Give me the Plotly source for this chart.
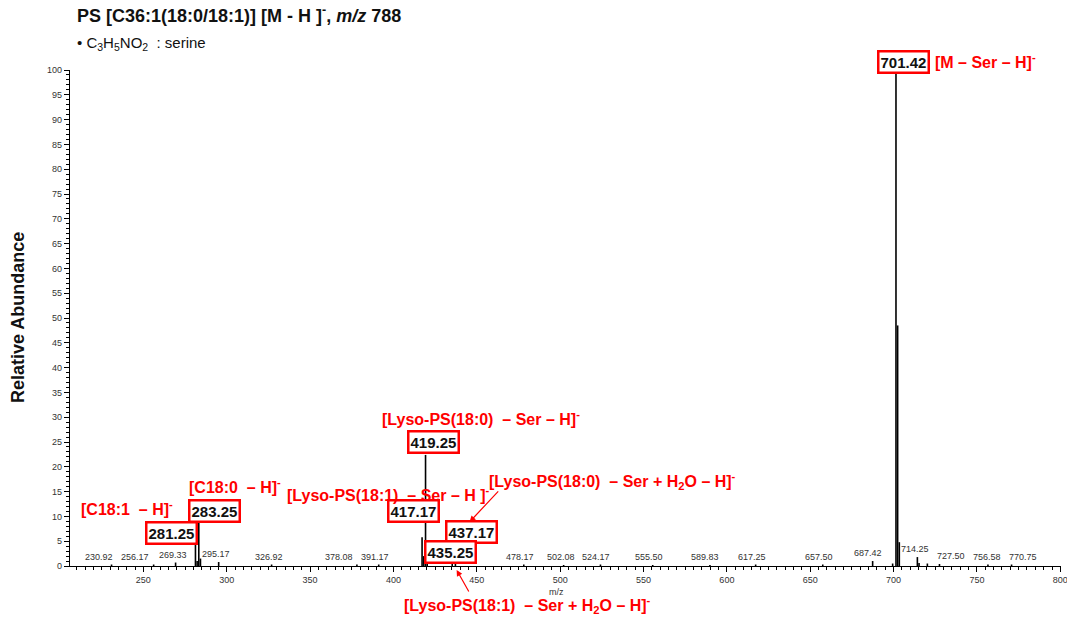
import plotly.graph_objects as go

# ---- data ----
peak_mz = [230.92, 256.17, 269.33, 281.25, 282.25, 283.25, 284.25, 295.17, 326.92, 378.08,
           391.17, 417.17, 418.17, 419.25, 420.25, 435.25, 437.17, 478.17, 502.08, 524.17,
           555.50, 589.83, 617.25, 657.50, 687.42, 699.42, 701.42, 702.42, 703.42, 714.25,
           715.25, 720.25, 727.50, 756.58, 770.75]
peak_int = [0.3, 0.3, 0.7, 6.2, 1.0, 8.7, 1.5, 0.8, 0.3, 0.3,
            0.3, 5.8, 2.0, 22.4, 3.0, 1.2, 1.5, 0.3, 0.2, 0.3,
            0.2, 0.2, 0.3, 0.3, 1.0, 0.5, 100.0, 48.5, 4.8, 1.8,
            0.6, 0.5, 0.4, 0.3, 0.3]

small_labels = ["230.92", "256.17", "269.33", "295.17", "326.92", "378.08", "391.17",
                "478.17", "502.08", "524.17", "555.50", "589.83", "617.25", "657.50",
                "687.42", "714.25", "727.50", "756.58", "770.75"]
# horizontal label offsets in pixels (layout only)
small_dx = [-13, -19, -3, -3, -3, -18, -4, -4, -3, -4, -4, -5, -4, -4, -5, -2, 12, -1, 11]

boxed_labels = ["701.42", "419.25", "417.17", "437.17", "435.25", "283.25", "281.25"]
boxed_pos_mz = [705.7, 424.1, 412.1, 446.9, 434.3, 292.9, 267.1]
boxed_pos_y = [101.6, 25.0, 11.1, 6.85, 2.8, 11.1, 6.65]

NB = "\u00a0"
ion_labels = [
    "[M – Ser – H]<sup>-</sup>",
    "[Lyso-PS(18:0)" + NB + NB + "– Ser – H]<sup>-</sup>",
    "[Lyso-PS(18:1)" + NB + NB + "– Ser – H ]<sup>-</sup>",
    "[Lyso-PS(18:0)" + NB + NB + "– Ser + H<sub>2</sub>O – H]<sup>-</sup>",
    "[C18:0" + NB + NB + "– H]<sup>-</sup>",
    "[C18:1" + NB + NB + "– H]<sup>-</sup>",
    "[Lyso-PS(18:1)" + NB + NB + "– Ser + H<sub>2</sub>O – H]<sup>-</sup>",
]
ion_pos_mz = [755.4, 452.3, 397.1, 531.3, 304.9, 240.2, 480.4]
ion_pos_y = [101.8, 29.8, 14.6, 17.1, 16.1, 11.7, -7.9]

PLOT_H = 496

# ---- stick spectrum ----
xs, ys = [], []
for m, h in zip(peak_mz, peak_int):
    xs += [m, m, None]
    ys += [0, h, None]

fig = go.Figure()
fig.add_trace(go.Scatter(x=xs, y=ys, mode="lines",
                         line=dict(color="black", width=1.6),
                         hoverinfo="skip", showlegend=False))

FONT = "Liberation Sans, Arial, sans-serif"
ann = []


def ypos(y):
    """data y -> (yref, value); out-of-range values go to paper coords."""
    if 0 <= y <= 100:
        return "y", y
    return "paper", y / 100.0


# small peak labels
lab_map = {f"{m:.2f}": h for m, h in zip(peak_mz, peak_int)}
for s, dx in zip(small_labels, small_dx):
    ann.append(dict(x=float(s), y=lab_map[s], xref="x", yref="y", text=s,
                    showarrow=False, yanchor="bottom", xshift=dx, yshift=1,
                    font=dict(family=FONT, size=9, color="#333")))

# boxed labels
for t, x, y in zip(boxed_labels, boxed_pos_mz, boxed_pos_y):
    yr, yv = ypos(y)
    ann.append(dict(x=x, y=yv, xref="x", yref=yr, text="<b>" + t + "</b>",
                    showarrow=False, bgcolor="white", bordercolor="#ff0000",
                    borderwidth=2.5, borderpad=1, xanchor="center", yanchor="middle",
                    font=dict(family=FONT, size=15, color="#111")))

# red ion labels
for t, x, y in zip(ion_labels, ion_pos_mz, ion_pos_y):
    yr, yv = ypos(y)
    ann.append(dict(x=x, y=yv, xref="x", yref=yr, text="<b>" + t + "</b>",
                    showarrow=False, xanchor="center", yanchor="middle",
                    font=dict(family=FONT, size=16, color="#ff0000")))

# arrows
ann.append(dict(x=445.7, y=8.9, xref="x", yref="y", text="", showarrow=True,
                ax=30, ay=-32, arrowcolor="#ff0000", arrowwidth=1.2, arrowhead=2,
                arrowsize=1))
ann.append(dict(x=437.9, y=-0.8 / 100.0, xref="x", yref="paper", text="", showarrow=True,
                ax=13, ay=23, arrowcolor="#ff0000", arrowwidth=1.2, arrowhead=2,
                arrowsize=1))

# titles
ann.append(dict(x=(75 - 70) / 991, y=1 + (70 - 14) / PLOT_H, xref="paper", yref="paper",
                xanchor="left", yanchor="middle", showarrow=False,
                text="<b>PS [C36:1(18:0/18:1)] [M - H ]<sup>-</sup>, <i>m/z</i> 788</b>",
                font=dict(family=FONT, size=18, color="#111")))
ann.append(dict(x=(75 - 70) / 991, y=1 + (70 - 44) / PLOT_H, xref="paper", yref="paper",
                xanchor="left", yanchor="middle", showarrow=False,
                text="• C<sub>3</sub>H<sub>5</sub>NO<sub>2</sub>" + NB + NB + ": serine",
                font=dict(family=FONT, size=15, color="#111")))
ann.append(dict(x=(18 - 70) / 991, y=0.5, xref="paper", yref="paper",
                xanchor="center", yanchor="middle",
                showarrow=False, textangle=-90, text="<b>Relative Abundance</b>",
                font=dict(family=FONT, size=18, color="#111")))
ann.append(dict(x=497.8, y=-(592 - 566) / PLOT_H, xref="x", yref="paper",
                xanchor="center", yanchor="middle",
                showarrow=False, text="m/z",
                font=dict(family=FONT, size=9, color="#333")))

fig.update_layout(
    width=1067, height=622,
    margin=dict(l=70, r=6, t=70, b=56),
    paper_bgcolor="white", plot_bgcolor="white",
    annotations=ann,
    xaxis=dict(range=[206, 800.4], tickmode="linear", tick0=250, dtick=50,
               automargin=False,
               showgrid=False, zeroline=False, showline=True, linecolor="black",
               linewidth=1.3, ticks="outside", ticklen=5, tickcolor="black",
               ticklabeloverflow="allow",
               tickfont=dict(family=FONT, size=9, color="#333"),
               minor=dict(dtick=5, ticks="outside", ticklen=3, tickcolor="black",
                          showgrid=False)),
    yaxis=dict(range=[0, 100], tickmode="linear", tick0=0, dtick=5,
               automargin=False,
               showgrid=False, zeroline=False, showline=True, linecolor="black",
               linewidth=1.3, ticks="outside", ticklen=5, tickcolor="black",
               tickfont=dict(family=FONT, size=9, color="#333"),
               minor=dict(dtick=1, ticks="outside", ticklen=3, tickcolor="black",
                          showgrid=False)),
)

fig.write_html("out.html")
